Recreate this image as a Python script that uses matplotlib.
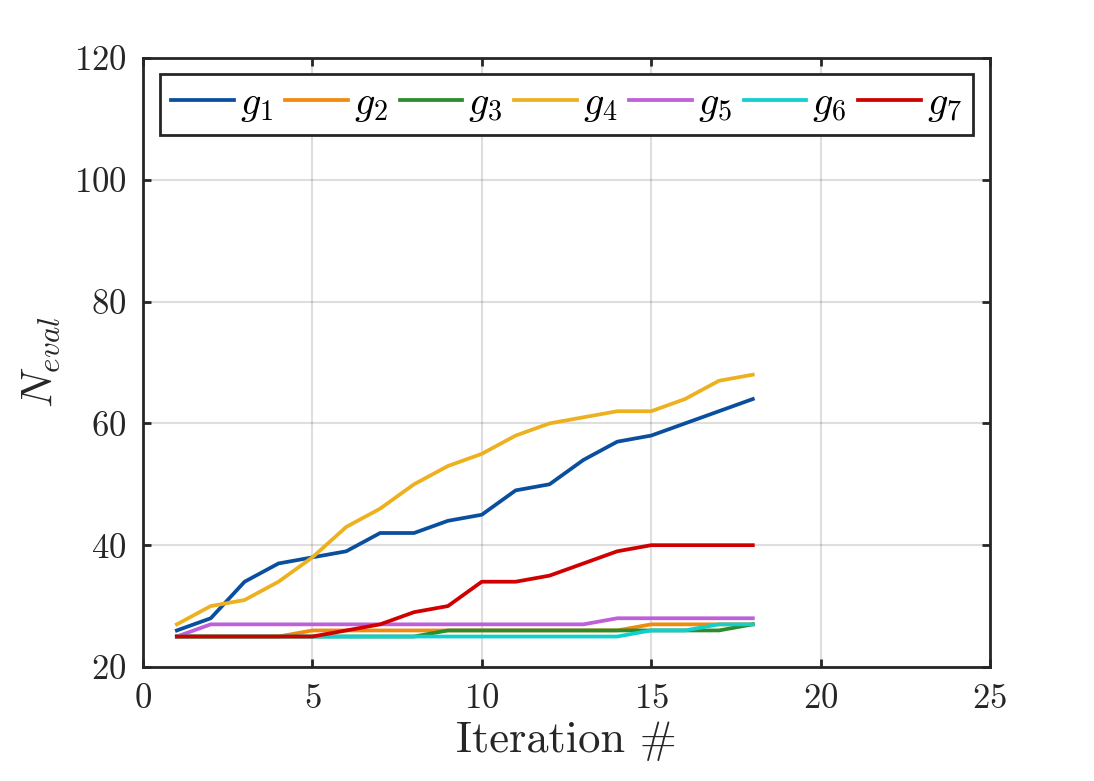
import matplotlib
matplotlib.use('Agg')
import matplotlib.pyplot as plt

plt.rcParams['font.family'] = 'serif'
plt.rcParams['font.serif'] = ['cmr10']
plt.rcParams['mathtext.fontset'] = 'cm'
plt.rcParams['axes.formatter.use_mathtext'] = True
plt.rcParams['axes.unicode_minus'] = False

# iterations
iters = list(range(1, 19))

# number of evaluations per constraint
g1 = [26, 28, 34, 37, 38, 39, 42, 42, 44, 45, 49, 50, 54, 57, 58, 60, 62, 64]
g2 = [25, 25, 25, 25, 26, 26, 26, 26, 26, 26, 26, 26, 26, 26, 27, 27, 27, 27]
g3 = [25, 25, 25, 25, 25, 25, 25, 25, 26, 26, 26, 26, 26, 26, 26, 26, 26, 27]
g4 = [27, 30, 31, 34, 38, 43, 46, 50, 53, 55, 58, 60, 61, 62, 62, 64, 67, 68]
g5 = [25, 27, 27, 27, 27, 27, 27, 27, 27, 27, 27, 27, 27, 28, 28, 28, 28, 28]
g6 = [25, 25, 25, 25, 25, 25, 25, 25, 25, 25, 25, 25, 25, 25, 26, 26, 27, 27]
g7 = [25, 25, 25, 25, 25, 26, 27, 29, 30, 34, 34, 35, 37, 39, 40, 40, 40, 40]

series = [g1, g2, g3, g4, g5, g6, g7]
labels = ['$g_1$', '$g_2$', '$g_3$', '$g_4$', '$g_5$', '$g_6$', '$g_7$']
colors = ['#0A4F9E', '#F28A0C', '#2A8C2A', '#EDB120', '#BF5FD9', '#12CFCF', '#D00000']

xticks = [0, 5, 10, 15, 20, 25]
yticks = [20, 40, 60, 80, 100, 120]

fig = plt.figure(figsize=(10.94, 7.81), dpi=100)
ax = fig.add_axes([0.1307, 0.146, 0.7742, 0.7797])

for ys, lab, c in zip(series, labels, colors):
    ax.plot(iters, ys, '-', color=c, lw=2.7, label=lab, zorder=3)

ax.set_xlim(0, 25)
ax.set_ylim(20, 120)
ax.set_xticks(xticks)
ax.set_yticks(yticks)
ax.grid(True, color='#262626', alpha=0.15, lw=1.5, zorder=0)

for s in ax.spines.values():
    s.set_linewidth(2.0)
    s.set_color('#262626')
ax.tick_params(direction='in', length=6, width=2.0, color='#262626',
               top=True, right=True, labelsize=25, labelcolor='#262626', pad=12)

ax.set_xlabel('Iteration #', fontsize=32, color='#262626', labelpad=4)
ax.set_ylabel('$N_{eval}$', fontsize=32, color='#262626', labelpad=8)

leg = ax.legend(loc='upper center', ncol=7, fontsize=29, frameon=True,
                fancybox=False, framealpha=1, edgecolor='#262626',
                handlelength=1.55, handletextpad=0.15, columnspacing=0.3,
                borderpad=0.28, borderaxespad=0.4)
leg.get_frame().set_linewidth(2.0)

plt.savefig('out.png', dpi=100)
